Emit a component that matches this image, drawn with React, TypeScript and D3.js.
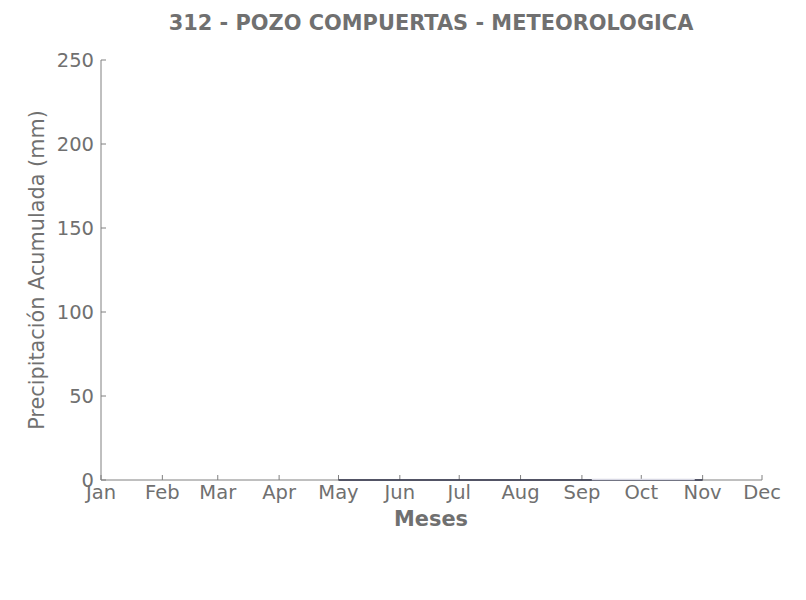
import React from "react";
import * as d3 from "d3";

const monthLabels = ["Jan","Feb","Mar","Apr","May","Jun","Jul","Aug","Sep","Oct","Nov","Dec"];
const yTicks = [0, 50, 100, 150, 200, 250];
// accumulated precipitation (mm), dark series
const seriesDates = ["2023-05-01","2023-06-01","2023-07-01","2023-08-01","2023-09-01","2023-10-01","2023-11-01"];
const seriesValues = [0, 0, 0, 0, 0, 0, 0];
// light overlay segment
const lightDates = ["2023-09-06","2023-10-28"];
const lightValues = [0.3, 0.3];

const W = 806, H = 600;
const left = 101, right = 762, top = 60, bottom = 480;
const textColor = "#707070";
const axisColor = "#808080";
const font = "DejaVu Sans";

export default function App() {
  const parse = d3.utcParse("%Y-%m-%d");
  const x = d3.scaleUtc().domain([new Date(Date.UTC(2023,0,1)), new Date(Date.UTC(2023,11,1))]).range([left, right]);
  const y = d3.scaleLinear().domain([0, 250]).range([bottom, top]);
  const months = monthLabels.map((_, i) => new Date(Date.UTC(2023, i, 1)));
  const line = d3.line<[Date, number]>().x(d => x(d[0])).y(d => y(d[1]));
  const dark = seriesDates.map((s, i) => [parse(s)!, seriesValues[i]] as [Date, number]);
  const light = lightDates.map((s, i) => [parse(s)!, lightValues[i]] as [Date, number]);
  return (
    <svg width={W} height={H} style={{ position: "absolute", left: 0, top: 0, background: "#fff" }} fontFamily={font}>
      <rect width={W} height={H} fill="#fff" />
      <text x={431} y={30} textAnchor="middle" fontSize={20.9} fontWeight="bold" fill={textColor}>312 - POZO COMPUERTAS - METEOROLOGICA</text>
      <line x1={left} x2={left} y1={top} y2={bottom} stroke={axisColor} strokeWidth={1} />
      <line x1={left} x2={right} y1={bottom} y2={bottom} stroke={axisColor} strokeWidth={1} />
      {yTicks.map(t => (
        <g key={t}>
          <line x1={left} x2={left + 5} y1={y(t)} y2={y(t)} stroke={axisColor} />
          <text x={left - 7} y={y(t) + 7} textAnchor="end" fontSize={19.5} fill={textColor}>{t}</text>
        </g>
      ))}
      {months.map((m, i) => (
        <g key={i}>
          <line x1={x(m)} x2={x(m)} y1={bottom} y2={bottom - 5} stroke={axisColor} />
          <text x={x(m)} y={bottom + 19} textAnchor="middle" fontSize={19.5} fill={textColor}>{monthLabels[i]}</text>
        </g>
      ))}
      <path d={line(dark)!} fill="none" stroke="#2e3047" strokeWidth={1.5} />
      <path d={line(light)!} fill="none" stroke="#d8d8e4" strokeWidth={1.5} />
      <text x={431} y={526} textAnchor="middle" fontSize={20.9} fontWeight="bold" fill={textColor}>Meses</text>
      <text transform={`translate(44,270) rotate(-90)`} textAnchor="middle" fontSize={20.8} fill={textColor}>Precipitación Acumulada (mm)</text>
    </svg>
  );
}
